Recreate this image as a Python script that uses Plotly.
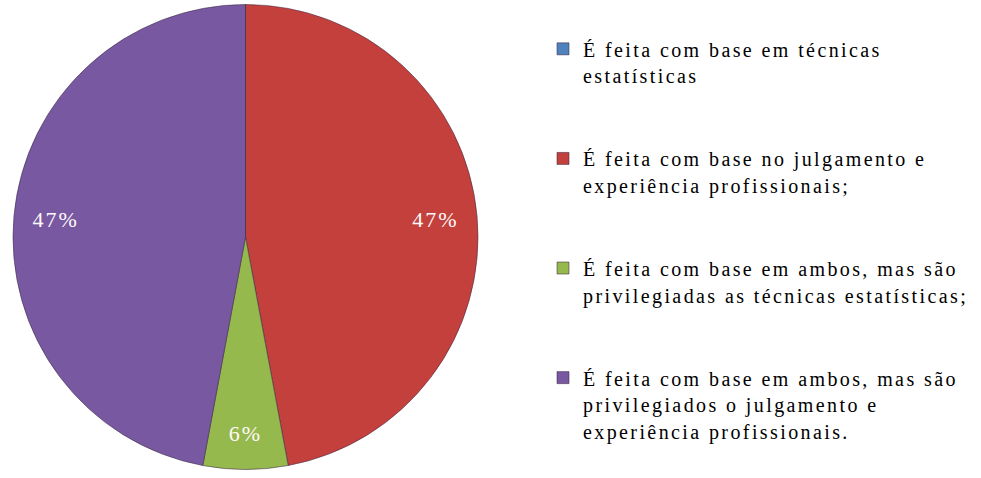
import plotly.graph_objects as go

label_lines = [
    ["É feita com base em técnicas", "estatísticas"],
    ["É feita com base no julgamento e", "experiência profissionais;"],
    ["É feita com base em ambos, mas são", "privilegiadas as técnicas estatísticas;"],
    ["É feita com base em ambos, mas são", "privilegiados o julgamento e", "experiência profissionais."],
]
values = [0, 8, 1, 8]
colors = ["#4F81BD", "#C4403C", "#96B94D", "#7859A1"]
show_pct = [False, True, True, True]

W, H = 981, 478
SERIF = "Liberation Serif, Times New Roman, serif"
SPAN = '<span style="font-family:Liberation Serif,serif;font-size:20px;letter-spacing:2.4px">{}</span>'

# legend entries: each line styled, padded with blank lines to reproduce the wide spacing
legend_labels = []
for lines in label_lines:
    styled = [SPAN.format(t) for t in lines]
    styled += [" "] * max(0, 4 - len(lines))
    legend_labels.append("<br>".join(styled))

PCT = '<span style="font-family:Liberation Serif,serif;letter-spacing:2px">%{percent:.0%}</span>'
text_templates = [PCT if s else "" for s in show_pct]

dom = dict(x=[13 / W, 478 / W], y=[8 / H, 474 / H])

fig = go.Figure()
fig.add_trace(
    go.Pie(
        labels=legend_labels,
        values=values,
        sort=False,
        direction="clockwise",
        rotation=0,
        marker=dict(colors=colors, line=dict(color="rgba(60,40,70,0.55)", width=1)),
        textinfo="none",
        domain=dom,
        showlegend=True,
        hoverinfo="percent",
    )
)
# transparent overlay ring used only to place the percentage labels near the rim
fig.add_trace(
    go.Pie(
        labels=legend_labels,
        values=values,
        sort=False,
        direction="clockwise",
        rotation=0,
        hole=0.64,
        marker=dict(colors=["rgba(0,0,0,0)"] * len(values), line=dict(width=0)),
        texttemplate=text_templates,
        textposition="inside",
        insidetextorientation="horizontal",
        textfont=dict(family=SERIF, size=22, color="#FFF8F8"),
        domain=dom,
        showlegend=False,
        hoverinfo="skip",
    )
)

fig.update_layout(
    width=W,
    height=H,
    margin=dict(l=0, r=0, t=0, b=0),
    paper_bgcolor="white",
    plot_bgcolor="white",
    legend=dict(
        x=543 / W,
        y=1 - 34 / H,
        xanchor="left",
        yanchor="top",
        valign="top",
        font=dict(family=SERIF, size=20.5, color="#000000"),
        traceorder="normal",
        itemwidth=30,
    ),
)

fig.write_html(
    "out.html",
    config={"displayModeBar": False},
    post_script="document.body.style.margin='0px';",
)
